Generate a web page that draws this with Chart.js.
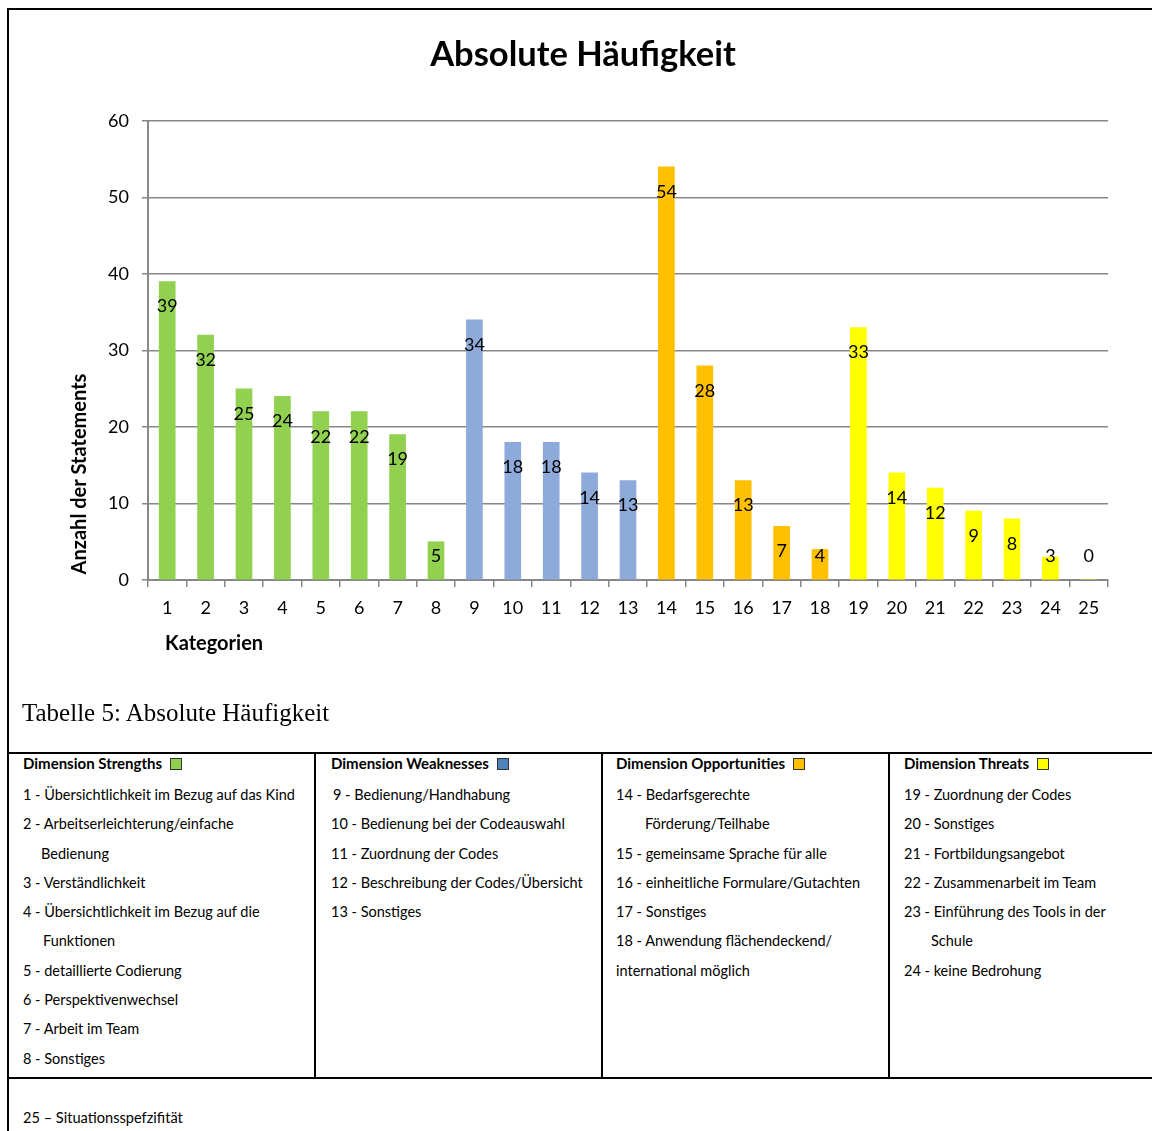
<!DOCTYPE html>
<html lang="de">
<head>
<meta charset="utf-8">
<title>Absolute Häufigkeit</title>
<script src="https://cdn.jsdelivr.net/npm/chart.js@4.4.1/dist/chart.umd.min.js"></script>
<style>
  html, body { margin: 0; padding: 0; background: #fff; }
  body { width: 1152px; height: 1131px; overflow: hidden; position: relative; font-family: Lato, "Open Sans", sans-serif; color: #000; }
  #frame { position: absolute; left: 7px; top: 8px; width: 1300px; height: 1300px; border: 2px solid #000; }
  #chart { position: absolute; left: 0; top: 0; }
  .caption { position: absolute; left: 22px; top: 698px; font-family: "Liberation Serif", serif; font-size: 25px; line-height: 30px; white-space: nowrap; }
  .hline { position: absolute; left: 8px; width: 1150px; height: 2px; background: #000; }
  .vline { position: absolute; width: 2px; background: #000; top: 753px; height: 325px; }
  .col { position: absolute; top: 751px; font-size: 14.5px; line-height: 29.3px; white-space: nowrap; }
  .col .head { font-weight: bold; font-size: 15px; line-height: 28px; margin-top: -2px; margin-bottom: 3px; }
  .swatch { display: inline-block; width: 10px; height: 10px; border: 1px solid #333; margin-left: 8px; vertical-align: -1px; }
  .foot { position: absolute; left: 23px; top: 1108px; font-size: 14.6px; line-height: 20px; white-space: nowrap; }
</style>
</head>
<body>
<div id="frame"></div>
<canvas id="chart" width="1152" height="700"></canvas>
<div class="caption">Tabelle 5: Absolute Häufigkeit</div>
<div class="hline" style="top:752px"></div>
<div class="hline" style="top:1077px"></div>
<div class="vline" style="left:314px"></div>
<div class="vline" style="left:601px"></div>
<div class="vline" style="left:888px"></div>
<div id="tableCols"></div>
<div class="foot" id="foot"></div>

<script>
// Category numbers shown on the x axis
const categories = ['1','2','3','4','5','6','7','8','9','10','11','12','13',
                    '14','15','16','17','18','19','20','21','22','23','24','25'];

// Number of statements per category
const counts = [39, 32, 25, 24, 22, 22, 19, 5, 34, 18, 18, 14, 13,
                54, 28, 13, 7, 4, 33, 14, 12, 9, 8, 3, 0];

// SWOT dimension each category belongs to
const dimensionOf = ['S','S','S','S','S','S','S','S','W','W','W','W','W',
                     'O','O','O','O','O','T','T','T','T','T','T','T'];

// y axis ticks
const yMin = 0;
const yMax = 60;
const yStep = 10;

// Colours per dimension: bars and the legend squares in the table
const barColors    = { S: '#92D050', W: '#8EAADB', O: '#FFC000', T: '#FFFF00' };
const swatchColors = { S: '#92D050', W: '#4F81BD', O: '#FFC000', T: '#FFFF00' };

// Category descriptions; [text, indent in px]
const strengthsItems = [
  ['1 - Übersichtlichkeit im Bezug auf das Kind', 0],
  ['2 - Arbeitserleichterung/einfache', 0],
  ['Bedienung', 18],
  ['3 - Verständlichkeit', 0],
  ['4 - Übersichtlichkeit im Bezug auf die', 0],
  ['Funktionen', 20],
  ['5 - detaillierte Codierung', 0],
  ['6 - Perspektivenwechsel', 0],
  ['7 - Arbeit im Team', 0],
  ['8 - Sonstiges', 0]
];
const weaknessesItems = [
  ['9 - Bedienung/Handhabung', 2],
  ['10 - Bedienung bei der Codeauswahl', 0],
  ['11 - Zuordnung der Codes', 0],
  ['12 - Beschreibung der Codes/Übersicht', 0],
  ['13 - Sonstiges', 0]
];
const opportunitiesItems = [
  ['14 - Bedarfsgerechte', 0],
  ['Förderung/Teilhabe', 29],
  ['15 - gemeinsame Sprache für alle', 0],
  ['16 - einheitliche Formulare/Gutachten', 0],
  ['17 - Sonstiges', 0],
  ['18 - Anwendung flächendeckend/', 0],
  ['international möglich', 0]
];
const threatsItems = [
  ['19 - Zuordnung der Codes', 0],
  ['20 - Sonstiges', 0],
  ['21 - Fortbildungsangebot', 0],
  ['22 - Zusammenarbeit im Team', 0],
  ['23 - Einführung des Tools in der', 0],
  ['Schule', 27],
  ['24 - keine Bedrohung', 0]
];
const footnote = '25 – Situationsspefzifität';

// ---- table below the chart ----
const columns = [
  { head: 'Dimension Strengths',     key: 'S', items: strengthsItems,     left: 23 },
  { head: 'Dimension Weaknesses',    key: 'W', items: weaknessesItems,    left: 331 },
  { head: 'Dimension Opportunities', key: 'O', items: opportunitiesItems, left: 616 },
  { head: 'Dimension Threats',       key: 'T', items: threatsItems,       left: 904 }
];
const host = document.getElementById('tableCols');
columns.forEach(c => {
  const col = document.createElement('div');
  col.className = 'col';
  col.style.left = c.left + 'px';
  const head = document.createElement('div');
  head.className = 'head';
  head.textContent = c.head;
  const sw = document.createElement('span');
  sw.className = 'swatch';
  sw.style.background = swatchColors[c.key];
  head.appendChild(sw);
  col.appendChild(head);
  c.items.forEach(([text, indent]) => {
    const line = document.createElement('div');
    line.textContent = text;
    line.style.paddingLeft = indent + 'px';
    col.appendChild(line);
  });
  host.appendChild(col);
});
document.getElementById('foot').textContent = footnote;

// ---- chart ----
const FONT = 'Lato, "Open Sans", sans-serif';
const gridColor = '#878787';

// Value labels just inside the top of each bar, kept above the baseline
const valueLabels = {
  id: 'valueLabels',
  afterDatasetsDraw(chart) {
    const meta = chart.getDatasetMeta(0);
    const base = chart.scales.y.getPixelForValue(0);
    const ctx = chart.ctx;
    ctx.save();
    ctx.font = '18px ' + FONT;
    ctx.fillStyle = '#000';
    ctx.textAlign = 'center';
    ctx.textBaseline = 'middle';
    meta.data.forEach((bar, i) => {
      const y = Math.min(bar.y + 25, base - 24);
      ctx.fillText(String(counts[i]), bar.x, y);
    });
    ctx.restore();
  }
};

// Axis titles
const axisTitles = {
  id: 'axisTitles',
  afterDraw(chart) {
    const ctx = chart.ctx;
    ctx.save();
    ctx.font = 'bold 20px ' + FONT;
    ctx.fillStyle = '#000';
    ctx.textBaseline = 'middle';
    ctx.textAlign = 'left';
    ctx.fillText('Kategorien', 165, 644);
    ctx.translate(80, 474);
    ctx.rotate(-Math.PI / 2);
    ctx.textAlign = 'center';
    ctx.fillText('Anzahl der Statements', 0, 0);
    ctx.restore();
  }
};

new Chart(document.getElementById('chart'), {
  type: 'bar',
  data: {
    labels: categories,
    datasets: [{
      data: counts,
      backgroundColor: dimensionOf.map(d => barColors[d]),
      borderWidth: 0,
      barThickness: 16
    }]
  },
  options: {
    responsive: false,
    animation: false,
    events: [],
    layout: { padding: { left: 58, right: 44, top: 0, bottom: 0 } },
    plugins: {
      legend: { display: false },
      tooltip: { enabled: false },
      title: {
        display: true,
        text: 'Absolute Häufigkeit',
        color: '#000',
        font: { family: FONT, size: 34.5, weight: 'bold', lineHeight: 1.2 },
        padding: { top: 34, bottom: 45.6 }
      }
    },
    scales: {
      x: {
        afterFit(scale) { scale.height = 120; },
        grid: { display: true, drawOnChartArea: false, drawTicks: true, tickLength: 7, offset: true, color: gridColor, lineWidth: 1.5 },
        border: { display: true, color: gridColor, width: 2 },
        ticks: { color: '#000', font: { family: FONT, size: 18 }, padding: 10, maxRotation: 0, autoSkip: false }
      },
      y: {
        min: yMin,
        max: yMax,
        afterFit(scale) { scale.width = 90; },
        grid: { color: gridColor, lineWidth: 1.5, tickLength: 6 },
        border: { display: true, color: gridColor, width: 2 },
        ticks: { stepSize: yStep, color: '#000', font: { family: FONT, size: 18 }, padding: 13 }
      }
    }
  },
  plugins: [valueLabels, axisTitles]
});
</script>
</body>
</html>
